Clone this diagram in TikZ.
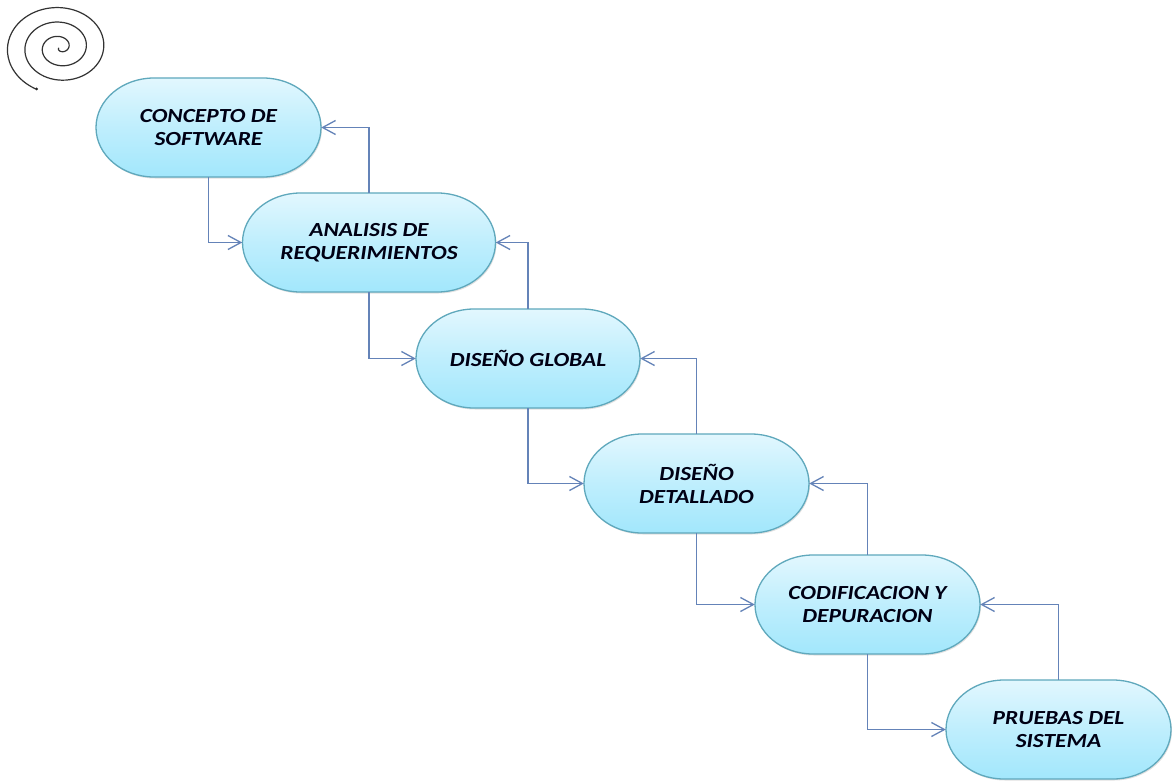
\documentclass[tikz,border=0pt]{standalone}
\usepackage{fontspec}
\setmainfont[FakeStretch=1.17]{Carlito}
\usetikzlibrary{arrows.meta}
\definecolor{boxtop}{HTML}{E2F7FE}
\definecolor{boxbot}{HTML}{A2E7FC}
\definecolor{boxline}{HTML}{5FA8BC}
\definecolor{conn}{HTML}{6483B8}
\newcommand{\stagepill}[3]{% centre x, centre y, width
  \fill[black,opacity=0.12] (#1-#3/2+1,#2+1.5) arc[start angle=180,end angle=90,x radius=58pt,y radius=49.5pt] -- ++(#3-116,0)
     arc[start angle=90,end angle=0,x radius=58pt,y radius=49.5pt] arc[start angle=0,end angle=-90,x radius=58pt,y radius=49.5pt]
     -- ++(116-#3,0) arc[start angle=-90,end angle=-180,x radius=58pt,y radius=49.5pt] -- cycle;
  \path[draw=boxline,line width=1.3pt,top color=boxtop,bottom color=boxbot,middle color=boxbot!55!boxtop]
     (#1-#3/2,#2) arc[start angle=180,end angle=90,x radius=58pt,y radius=49.5pt] -- ++(#3-116,0)
     arc[start angle=90,end angle=0,x radius=58pt,y radius=49.5pt] arc[start angle=0,end angle=-90,x radius=58pt,y radius=49.5pt]
     -- ++(116-#3,0) arc[start angle=-90,end angle=-180,x radius=58pt,y radius=49.5pt] -- cycle;
}
\tikzset{
  x=1pt,y=-1pt,
  stage/.style={minimum height=99pt,align=center,inner sep=0pt,
    font=\fontsize{20}{23}\selectfont\bfseries\itshape,text=black!92!blue},
  flow/.style={draw=conn,line width=1.4pt,-{Straight Barb[length=13pt,width=14pt,line width=1.3pt]}}
}
\begin{document}
\begin{tikzpicture}
\useasboundingbox (0,0) rectangle (1174,781);
\fill[white] (0,0) rectangle (1174,781);
\draw[line width=1.2pt,black!80,line cap=round] plot[domain=0.08:3.18,samples=200,smooth]
  ({60+17.5*\x*cos(360*\x-180)},{47.5-14.5*\x*sin(360*\x-180)});
\fill[black!85] (36.5,89) circle (1.5);
\stagepill{208.5}{127.5}{225}
\stagepill{369}{242.5}{253}
\stagepill{528}{358.5}{224}
\stagepill{696.5}{483.5}{225}
\stagepill{867.5}{604.5}{225}
\stagepill{1058.5}{729.5}{225}
\node[stage,minimum width=225pt] (a) at (208.5,127.5) {CONCEPTO DE\\SOFTWARE};
\node[stage,minimum width=253pt] (b) at (369,242.5) {ANALISIS DE\\REQUERIMIENTOS};
\node[stage,minimum width=224pt] (c) at (528,358.5) {DISEÑO GLOBAL};
\node[stage,minimum width=225pt] (d) at (696.5,483.5) {DISEÑO\\DETALLADO};
\node[stage,minimum width=225pt] (e) at (867.5,604.5) {CODIFICACION Y\\DEPURACION};
\node[stage,minimum width=225pt] (f) at (1058.5,729.5) {PRUEBAS DEL\\SISTEMA};
\draw[flow] (a.south) |- (b.west);
\draw[flow] (b.south) |- (c.west);
\draw[flow] (c.south) |- (d.west);
\draw[flow] (d.south) |- (e.west);
\draw[flow] (e.south) |- (f.west);
\draw[flow] (b.north) |- (a.east);
\draw[flow] (c.north) |- (b.east);
\draw[flow] (d.north) |- (c.east);
\draw[flow] (e.north) |- (d.east);
\draw[flow] (f.north) |- (e.east);
\end{tikzpicture}
\end{document}
